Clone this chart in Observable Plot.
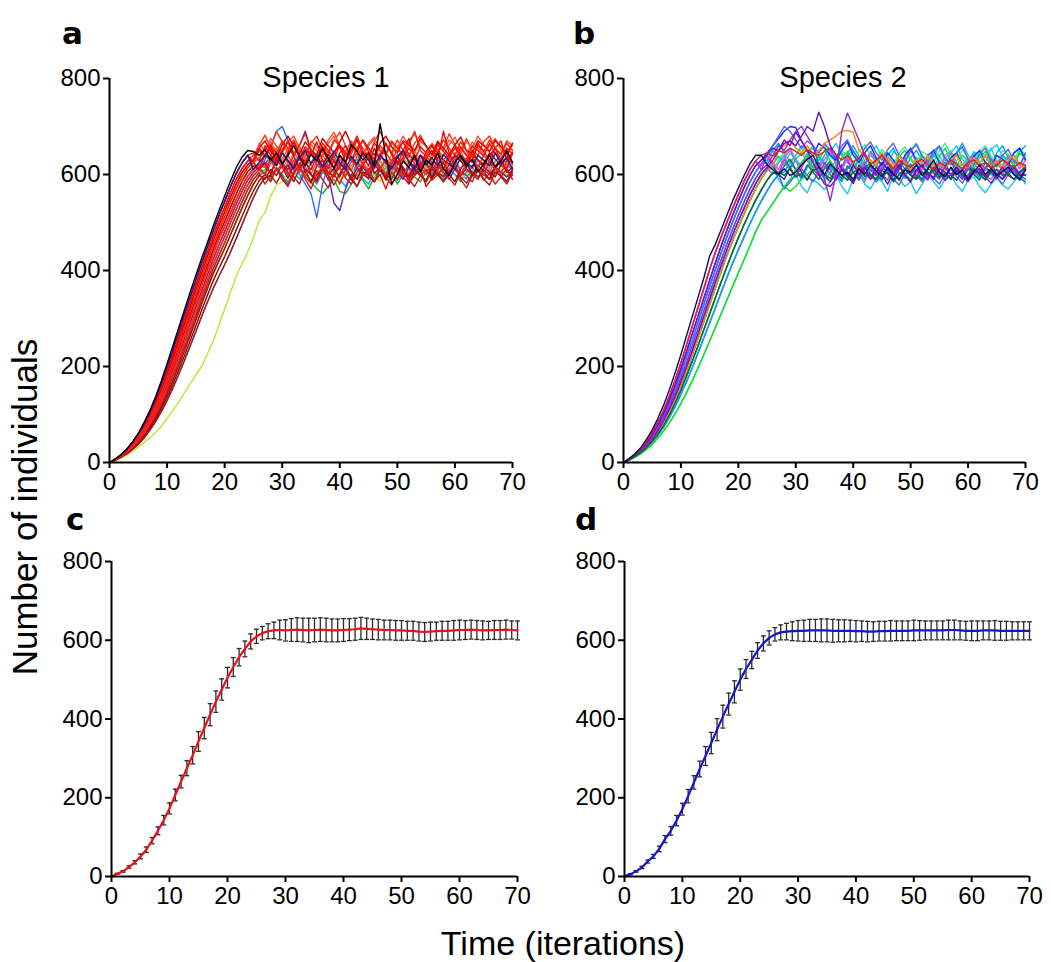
<!DOCTYPE html>
<html><head><meta charset="utf-8">
<script src="https://cdn.jsdelivr.net/npm/d3@7"></script>
<script src="https://cdn.jsdelivr.net/npm/@observablehq/plot@0.6"></script>
<style>
body{margin:0;background:#fff;}
#wrap{position:relative;width:1051px;height:962px;overflow:hidden;font-family:"Liberation Sans",Arial,sans-serif;}
.panel{position:absolute;}
#labels{position:absolute;left:0;top:0;pointer-events:none;}
</style></head><body><div id="wrap"></div>
<script>
// ---------- tick labels ----------
const xTicks = [0,10,20,30,40,50,60,70];
const yTicks = [0,200,400,600,800];
const panelLetters = ["a","b","c","d"];
const panelTitles = ["Species 1","Species 2"];
const yLabel = "Number of individuals";
const xLabel = "Time (iterations)";

// ---------- Panel a: growth phases (t = 0,1,2,...) ----------
const gA1 = [0,7,16,28,43,61,83,108,137,170,206,243,280,317,354,390,425,458,492,524,555,586,614,636,650];
const gA9 = [0,7,16,27,42,59,80,104,132,164,198,234,271,308,344,380,415,449,482,514,544,574,602,624,640];
const gA2 = [0,7,15,26,40,56,76,100,127,157,190,225,261,297,333,369,404,438,471,502,532,562,590,612,628];
const gA10 = [0,7,15,26,39,55,74,97,123,152,184,218,253,289,324,360,395,429,462,493,522,552,580,604,620,630];
const gA3 = [0,6,14,25,38,53,72,94,119,147,178,211,245,280,315,350,385,419,452,483,512,542,570,595,614,624];
const gA11 = [0,6,14,24,37,51,69,91,115,142,172,205,239,273,308,342,376,410,443,474,502,531,559,585,606,618];
const gA4 = [0,6,13,23,35,49,66,87,111,138,167,199,232,266,300,334,368,401,434,465,492,520,548,574,597,612,620];
const gA12 = [0,6,13,23,34,48,64,84,107,133,161,192,224,257,290,324,357,390,423,453,481,510,538,564,588,605,615];
const gA5 = [0,6,13,22,33,46,62,81,103,128,155,185,216,248,281,314,347,380,412,442,470,499,527,553,578,598,610];
const gA13 = [0,6,12,21,31,44,60,78,99,123,149,178,208,240,272,305,338,371,402,431,458,487,515,542,568,590,604];
const gA6 = [0,5,12,20,30,42,57,74,94,117,143,171,201,232,264,297,330,362,393,420,446,474,502,530,556,580,598];
const gA14 = [0,5,11,19,29,40,54,71,90,112,136,163,192,222,253,285,317,348,378,404,429,456,484,512,540,566,587,600];
const gA7 = [0,5,11,18,27,38,51,67,85,106,129,155,183,212,242,273,304,334,362,388,412,438,466,495,524,552,576,594];
const gA8 = [0,4,9,15,23,32,42,52,62,75,92,108,126,145,164,182,200,226,252,286,320,354,388,414,438,468,505,520,555,578];

// ---------- Panel a: plateau phases ----------
const pA1 = [648,640,652,630,645,622,640,660,636,618,642,628,655,634,612,640,625,662,648,630,645,620,706,640,580,600,628,615,640,605,630,620,645,612,598,626,640,618,632,605,622,640,615,628,650,625,612,638,622,645];
const pA2 = [630,655,640,662,625,648,670,638,615,652,640,668,630,612,645,660,625,650,672,640,618,655,630,665,642,620,650,675,635,615,648,662,630,690,645,622,658,640,625,665,648,630,655,670,628,645,660,635,650,640];
const pA3 = [610,625,600,632,615,592,620,640,605,585,618,630,600,612,595,625,608,590,620,635,602,615,588,622,640,610,596,620,605,630,592,615,625,600,585,612,628,598,620,606,590,618,632,604,615,598,625,610,600,620];
const pA4 = [640,660,682,655,690,668,645,672,650,635,665,680,652,640,670,688,660,642,675,655,638,668,690,662,645,672,650,636,665,682,658,640,670,655,685,662,645,675,650,640,668,680,655,642,670,660,648,675,655,665];
const pA5 = [600,585,612,595,578,605,620,590,570,600,615,588,602,580,610,595,575,598,612,585,600,570,605,590,615,582,598,610,575,592,605,585,600,618,590,572,598,610,588,602,580,595,612,590,600,585,605,595,580,600];
const pA6 = [630,660,690,700,672,640,600,580,560,510,580,620,600,640,612,595,625,608,590,630,615,600,622,640,605,590,615,630,600,612,625,598,610,635,605,590,620,612,600,628,615,605,620,610,600,630,615,605,620,610];
const pA7 = [610,625,640,632,618,645,628,612,636,650,622,640,615,630,648,625,610,638,622,645,630,615,640,628,612,635,650,625,610,640,620,635,618,642,628,610,636,625,615,640,630,618,645,622,635,612,628,640,620,630];
const pA8 = [585,600,590,612,598,580,605,620,595,610,588,600,615,592,605,620,598,585,610,600,590,612,605,595,620,600,588,610,598,605,615,592,600,610,595,605,590,600,612,598,605,600,595,610,600,590,605,600,598,612];
const pA9 = [605,590,615,598,580,600,625,610,585,570,560,575,590,565,560,580,600,588,570,595,612,590,605,580,600,615,595,585,605,620,598,590,610,600,585,605,615,595,600,590,612,605,595,600,610,590,605,600,595,605];
const pA10 = [650,635,660,645,670,655,640,662,685,650,632,658,645,672,660,640,655,680,648,635,665,650,642,670,655,640,662,690,650,638,660,645,672,655,640,668,650,635,660,648,672,655,642,665,650,638,660,648,670,655];
const pA11 = [620,640,628,655,635,615,648,660,632,620,645,630,612,650,638,625,660,640,618,636,652,628,615,642,660,635,620,648,632,610,640,655,628,618,645,635,622,650,640,628,612,645,632,620,650,638,625,640,630,645];
const pA12 = [590,610,598,620,605,585,612,630,600,590,618,605,595,625,610,588,615,600,592,620,608,595,615,628,602,590,612,600,585,618,605,595,622,610,598,612,600,590,615,605,595,620,608,598,612,600,590,610,605,615];
const pA13 = [620,640,655,625,610,640,660,690,650,630,610,600,540,525,570,600,590,615,600,630,612,595,620,605,590,615,600,625,610,595,618,605,590,612,600,620,605,595,610,600,615,605,595,610,620,600,605,615,600,610];
const pA14 = [635,620,645,630,615,640,625,650,632,618,642,628,615,645,630,620,648,635,618,640,625,612,638,650,628,615,640,632,618,645,630,622,640,628,615,642,630,620,645,632,618,638,625,640,630,620,642,628,635,625];
const pA15 = [595,612,600,585,605,590,615,600,580,605,595,612,590,575,600,610,592,580,605,598,615,600,588,605,595,612,598,585,605,600,590,610,600,588,605,595,612,600,590,605,598,585,600,612,595,605,590,600,610,598];
const pA16 = [665,650,675,660,645,668,680,655,640,670,658,645,672,688,660,648,670,655,640,665,678,650,642,668,655,680,662,645,670,658,640,665,650,672,660,645,668,655,680,662,648,670,658,645,665,650,672,660,648,665];
const pA17 = [625,612,640,655,630,618,645,668,640,625,610,638,652,628,615,645,660,635,620,648,630,612,640,665,645,622,635,655,640,618,632,650,625,610,642,660,635,620,648,630,615,640,655,628,612,645,632,622,650,638];
const pA18 = [580,598,612,590,575,602,618,595,582,608,590,572,600,615,592,580,605,620,598,585,610,595,578,602,615,590,575,598,610,588,600,615,592,578,605,598,585,610,600,590,612,595,580,605,598,588,610,600,592,605];
const pA19 = [655,670,648,635,662,680,658,642,668,652,640,675,660,645,668,690,662,648,672,655,640,665,680,658,645,670,662,650,676,660,642,668,655,640,662,678,650,645,670,660,648,672,658,642,665,680,655,648,668,660];
const pA20 = [615,630,608,622,640,618,605,628,645,620,610,635,625,612,640,630,615,622,648,628,610,632,620,605,630,645,622,612,638,625,608,630,642,620,612,635,628,615,640,625,610,632,645,620,615,630,625,610,635,628];
const pA21 = [598,582,605,620,595,580,610,600,585,612,598,578,602,618,590,575,605,598,585,612,600,590,615,595,580,608,598,588,612,600,585,605,620,595,582,600,612,590,578,605,598,585,610,600,590,615,598,585,605,598];
const pA22 = [645,628,660,640,625,652,668,645,630,658,642,628,665,650,635,660,645,630,655,670,648,632,660,645,628,652,668,640,630,658,645,632,662,648,635,655,640,628,660,650,638,665,645,630,655,642,635,660,648,640];
const pA23 = [600,622,640,615,598,630,612,595,625,642,618,600,632,615,598,628,645,620,605,635,618,600,630,612,595,625,640,615,600,628,620,605,635,618,600,625,640,612,598,630,615,602,628,642,618,605,632,620,608,625];
const pA24 = [610,630,645,620,600,588,612,635,620,598,605,625,640,612,595,618,632,608,590,615,628,605,595,620,635,610,598,622,612,600,625,615,602,620,630,608,595,618,625,610,600,620,628,612,598,615,625,605,612,620];
const pA25 = [635,650,668,645,630,655,672,648,635,662,650,638,665,680,655,640,668,652,638,660,675,650,642,665,655,640,670,685,658,645,665,650,638,662,678,652,640,668,655,642,660,675,650,638,662,655,645,668,658,650];
const pA26 = [620,605,630,648,622,608,635,615,600,628,642,618,605,632,620,608,638,625,610,630,645,620,605,628,615,600,625,640,618,605,630,622,610,635,648,625,612,630,618,605,628,640,620,610,632,625,612,630,620,615];

// ---------- Panel b: growth phases ----------
const gB1 = [0,8,18,31,48,68,92,120,152,187,225,265,305,345,385,430,455,485,515,545,572,598,622,640];
const gB6 = [0,8,17,29,44,62,84,109,139,172,208,246,285,324,363,402,438,470,500,530,558,586,610,628];
const gB2 = [0,7,16,27,41,58,79,103,131,162,196,232,269,306,343,380,416,451,484,515,545,573,598,618,630];
const gB7 = [0,7,15,26,39,55,74,97,124,153,186,221,256,293,330,366,402,437,470,501,530,558,584,605,622];
const gB3 = [0,6,14,24,37,52,70,92,117,145,176,209,244,280,316,352,388,422,455,486,515,543,569,592,610,620];
const gB8 = [0,6,13,23,35,49,66,87,111,138,168,200,234,269,305,340,376,410,443,474,503,530,557,581,601,614];
const gB4 = [0,6,13,22,33,47,63,83,106,132,161,192,225,259,294,329,364,398,431,462,491,518,545,570,592,608,616];
const gB10 = [0,6,12,21,31,44,59,77,99,124,151,181,212,244,277,310,343,376,408,439,468,496,522,546,568,588,604];
const gB9 = [0,5,12,20,30,42,57,74,94,117,142,169,198,229,260,291,322,354,385,415,443,470,497,522,545,566,585,600];
const gB5 = [0,5,11,18,27,38,51,66,83,102,123,146,171,198,225,253,281,310,338,367,395,423,451,480,505,522,540,558,575];

// ---------- Panel b: plateau phases ----------
const pB1 = [640,620,610,600,612,598,605,620,632,640,615,600,622,610,598,605,590,612,600,620,608,595,615,600,590,610,605,620,598,612,630,605,595,615,600,610,590,605,620,600,612,598,606,615,600,590,610,600,605,612];
const pB2 = [640,655,650,665,670,660,680,700,690,730,700,660,640,610,595,620,600,615,590,605,625,610,598,615,600,585,610,620,600,595,612,605,590,615,600,588,610,605,595,612,600,590,605,615,598,600,610,595,605,600];
const pB3 = [640,660,650,672,690,700,680,660,620,590,545,600,690,728,700,672,640,620,600,610,625,605,590,612,600,620,605,595,610,600,615,598,605,590,612,600,608,595,610,602,590,605,615,600,598,610,605,600,610,600];
const pB4 = [650,660,670,655,645,660,640,650,665,672,680,690,692,688,650,640,630,620,645,630,615,640,625,610,632,620,640,615,625,610,630,640,620,612,635,625,640,618,630,612,628,640,620,615,630,600,580,590,605,615];
const pB5 = [640,645,638,650,645,655,648,640,652,645,640,648,655,642,630,640,625,635,645,620,630,640,625,612,630,620,615,625,632,620,610,625,618,630,622,612,625,630,618,625,612,620,630,622,615,625,618,620,625,620];
const pB6 = [605,598,612,595,602,590,608,615,600,592,610,598,588,605,612,596,600,590,608,602,585,600,612,598,590,605,600,612,595,602,590,608,600,595,612,600,590,605,610,598,602,590,606,615,600,595,605,610,600,605];
const pB7 = [645,660,675,690,700,698,670,650,640,665,655,640,630,650,668,640,625,645,660,635,620,645,630,612,640,655,628,615,640,650,625,610,635,645,620,612,638,650,625,615,640,632,620,645,655,630,625,640,650,640];
const pB8 = [590,570,585,600,575,562,590,580,568,585,600,575,560,590,605,580,570,592,585,565,600,590,575,585,560,580,598,585,570,590,600,578,565,588,595,575,562,580,592,578,570,585,600,580,568,590,585,575,590,580];
const pB9 = [590,610,625,640,612,630,650,628,612,635,648,625,610,640,630,615,645,628,612,638,650,630,618,640,625,612,638,655,630,618,640,628,612,635,648,625,615,640,630,620,645,632,618,640,628,615,635,650,628,640];
const pB10 = [630,650,665,645,625,640,660,648,630,615,640,655,630,612,645,660,638,620,648,632,615,640,655,628,612,635,650,630,615,642,658,630,620,645,665,640,625,650,638,620,645,660,635,622,648,660,640,628,650,640];
const pB11 = [610,640,620,600,632,615,595,620,640,612,598,625,610,590,618,632,605,592,620,610,598,625,612,600,622,635,608,595,618,625,602,590,615,632,610,598,620,612,600,625,615,598,610,625,608,600,620,612,605,615];
const pB12 = [620,638,625,610,632,645,628,615,638,622,610,630,645,625,612,635,620,605,628,642,618,608,630,622,610,635,625,612,640,628,615,632,620,608,630,645,625,612,635,622,610,628,640,620,612,632,625,618,630,625];
const pB13 = [570,585,600,612,598,585,605,620,600,588,610,598,582,605,618,598,585,600,612,590,578,602,615,598,585,605,592,580,600,612,595,582,600,615,598,588,605,595,580,600,610,592,585,600,612,598,590,605,595,600];
const pB14 = [625,650,635,618,645,630,615,640,655,632,620,645,628,612,638,650,625,615,640,632,618,645,628,615,638,652,630,618,642,628,612,640,650,625,618,638,630,615,640,655,628,620,642,630,618,640,625,632,640,630];
const pB15 = [600,625,640,610,595,620,632,605,590,615,628,600,588,612,625,598,585,610,622,600,590,615,605,595,620,610,598,588,612,620,600,592,615,605,595,622,610,598,590,612,600,618,605,595,610,620,600,605,612,605];
const pB16 = [565,575,590,600,612,598,585,605,620,600,590,612,628,605,595,615,600,588,610,622,600,590,608,615,598,605,620,600,590,610,600,615,605,595,612,600,590,608,618,600,595,610,605,598,612,600,592,605,615,600];
const pB17 = [612,628,640,655,632,618,645,660,638,620,648,665,640,625,650,632,618,645,660,635,620,648,638,622,650,665,640,628,652,638,620,645,660,632,618,648,640,625,652,662,638,622,645,655,632,620,648,640,628,645];
const pB18 = [600,590,615,630,605,588,612,625,598,585,608,620,595,582,610,625,600,590,615,605,588,612,628,600,592,618,605,590,612,625,598,588,610,620,600,590,615,605,592,612,625,600,588,610,618,598,592,612,605,600];
const pB19 = [630,648,620,640,655,632,618,645,660,638,625,650,640,622,648,662,640,628,652,638,622,645,658,635,620,648,640,625,650,665,640,628,652,640,625,648,660,638,622,650,642,628,655,640,625,648,658,640,630,645];
const pB20 = [630,650,672,660,688,670,650,625,600,580,575,590,610,600,585,620,605,590,615,600,580,605,620,598,585,610,600,590,615,605,588,600,615,598,585,605,612,595,582,600,615,598,590,605,612,600,592,605,598,600];
const pB21 = [605,625,610,590,615,630,605,592,618,600,585,612,628,605,590,615,600,588,610,625,600,592,618,605,590,612,628,600,588,615,605,595,620,610,592,612,625,600,590,615,605,592,612,622,600,595,615,605,598,610];
const pB22 = [618,640,625,610,635,650,628,612,640,625,610,632,648,622,608,635,620,605,630,645,622,610,635,625,612,638,650,625,610,632,622,608,635,645,620,612,630,640,622,608,632,625,615,638,628,612,630,640,622,625];
const pB23 = [600,618,632,610,595,620,605,590,612,628,605,592,618,605,588,612,625,600,590,615,602,588,610,622,598,590,612,605,592,618,628,602,590,612,600,588,615,625,600,592,610,620,600,590,612,605,595,615,608,600];
const pB24 = [640,660,680,700,690,672,655,670,660,645,665,650,635,660,672,648,632,655,668,645,630,652,665,640,628,650,662,638,625,648,660,635,622,645,658,632,620,642,655,630,618,640,652,628,620,645,655,632,625,640];

// ---------- Panel c (species 1 mean, SD) ----------
const meanC_growth = [0,7,13,24,36,51,68,91,116,143,173,207,241,275,308,343,377,411,444,475,505,532,557,578,597,610,618,623,625];
const meanC_plateau = [626,625,626,627,626,625,626,627,626,625,625,626,627,628,630,629,628,627,626,626,625,625,624,624,622,621,622,623,624,624,625,626,626,627,626,625,625,626,626,627,626,625,625,626];
const sdC_growth = [0,1,2,3,4,6,7,8,10,12,14,15,16,19,22,25,27,28,27,27,26,24,22,20,19,18,17,19,21];
const sdC_plateau = [25,27,29,30,30,31,30,30,30,29,29,29,28,28,28,27,26,26,25,25,25,25,24,24,24,24,24,23,24,24,25,25,24,24,24,24,23,24,24,24,23,24,24,24];

// ---------- Panel d (species 2 mean, SD) ----------
const meanD_growth = [0,6,13,23,38,51,70,95,116,142,171,204,239,273,306,339,373,406,438,469,500,527,550,574,592,606,615,620,622];
const meanD_plateau = [623,624,624,625,625,625,625,624,624,624,624,623,623,622,622,623,623,624,624,624,624,625,625,625,625,625,625,626,626,625,624,624,624,625,625,625,624,624,624,624,624,624,624,624];
const sdD_growth = [0,1,2,3,4,5,7,9,11,13,15,17,17,20,24,27,28,29,28,28,27,24,22,20,19,18,17,19,21];
const sdD_plateau = [24,26,27,28,28,29,29,29,28,28,27,27,26,26,25,25,25,26,25,25,25,26,25,24,24,24,24,25,25,24,24,25,25,24,24,25,24,24,23,23,23,23,23,23];

// ---------- Line sets (draw order: first drawn at bottom) ----------
const linesA = [
  {g:gA6,  p:pA9,  color:"#22b022"},
  {g:gA13, p:pA24, color:"#30c030"},
  {g:gA5,  p:pA6,  color:"#2f6bff"},
  {g:gA7,  p:pA15, color:"#12a8e8"},
  {g:gA8,  p:pA8,  color:"#b8e830"},
  {g:gA4,  p:pA13, color:"#6a1fc0"},
  {g:gA12, p:pA26, color:"#e040a0"},
  {g:gA11, p:pA11, color:"#ff8c00"},
  {g:gA2,  p:pA4,  color:"#ff3300"},
  {g:gA14, p:pA14, color:"#8b0000"},
  {g:gA6,  p:pA12, color:"#cc0000"},
  {g:gA12, p:pA5,  color:"#e01010"},
  {g:gA10, p:pA16, color:"#ff4d4d"},
  {g:gA13, p:pA18, color:"#c41e1e"},
  {g:gA7,  p:pA21, color:"#b01010"},
  {g:gA11, p:pA3,  color:"#b00000"},
  {g:gA3,  p:pA25, color:"#ff5a1f"},
  {g:gA9,  p:pA17, color:"#e60000"},
  {g:gA4,  p:pA20, color:"#ff2020"},
  {g:gA10, p:pA19, color:"#d00000"},
  {g:gA5,  p:pA23, color:"#e82a2a"},
  {g:gA9,  p:pA22, color:"#ff1010"},
  {g:gA3,  p:pA10, color:"#ff1a00"},
  {g:gA2,  p:pA2,  color:"#ff0000"},
  {g:gA9,  p:pA7,  color:"#1c1c9c"},
  {g:gA1,  p:pA1,  color:"#000000"}
];
const linesB = [
  {g:gB4,  p:pB8,  color:"#18c8f0"},
  {g:gB5,  p:pB16, color:"#22dd22"},
  {g:gB8,  p:pB15, color:"#b060e0"},
  {g:gB9,  p:pB13, color:"#4169e1"},
  {g:gB10, p:pB18, color:"#2020c0"},
  {g:gB7,  p:pB14, color:"#20e0b0"},
  {g:gB3,  p:pB17, color:"#00d8e8"},
  {g:gB8,  p:pB12, color:"#00c8a0"},
  {g:gB9,  p:pB21, color:"#00a0ff"},
  {g:gB7,  p:pB10, color:"#00a8f0"},
  {g:gB10, p:pB19, color:"#40f080"},
  {g:gB6,  p:pB11, color:"#d020d0"},
  {g:gB6,  p:pB22, color:"#ff40ff"},
  {g:gB4,  p:pB23, color:"#008080"},
  {g:gB5,  p:pB9,  color:"#10e040"},
  {g:gB2,  p:pB7,  color:"#1030ff"},
  {g:gB7,  p:pB24, color:"#5a5aff"},
  {g:gB4,  p:pB4,  color:"#ff8a00"},
  {g:gB8,  p:pB20, color:"#9000c0"},
  {g:gB3,  p:pB3,  color:"#8a2be2"},
  {g:gB2,  p:pB2,  color:"#6a10c8"},
  {g:gB10, p:pB6,  color:"#006a20"},
  {g:gB6,  p:pB5,  color:"#e02020"},
  {g:gB1,  p:pB1,  color:"#0a0a60"}
];

// ---------- helpers ----------
function toRows(lines){
  return lines.flatMap((L,i)=> L.g.concat(L.p).slice(0,71).map((y,t)=>({t, y, id:i, color:L.color})));
}
function meanRows(mg, mp, sg, sp){
  const m = mg.concat(mp).slice(0,71), s = sg.concat(sp).slice(0,71);
  return m.map((v,t)=>({t, v, lo: v - s[t], hi: v + s[t]}));
}
const fontFam = "'Liberation Sans', Arial, sans-serif";
function axes(){
  return [
    Plot.axisX({ticks:xTicks, tickSize:6, tickPadding:4, strokeWidth:2, label:null, fontSize:24}),
    Plot.axisY({ticks:yTicks, tickSize:6, tickPadding:3, strokeWidth:2, label:null, fontSize:24}),
    Plot.ruleX([0], {strokeWidth:2, stroke:"black"}),
    Plot.ruleY([0], {strokeWidth:2, stroke:"black"})
  ];
}
function base(m){
  return {
    width:530, height:m.h,
    marginLeft:m.l, marginRight:m.r, marginTop:m.t, marginBottom:m.b,
    x:{domain:[0,70]}, y:{domain:[0,800]},
    color:{type:"identity"},
    style:{fontSize:"24px", fontFamily:fontFam, background:"transparent", color:"black", overflow:"visible"}
  };
}
function spaghetti(lines, m){
  return Plot.plot({...base(m), marks:[
    Plot.line(toRows(lines), {x:"t", y:"y", z:"id", stroke:"color", strokeWidth:1.4}),
    ...axes()
  ]});
}
function meanPlot(rows, lineColor, m){
  const bars = rows.filter(d=>d.t>0);
  return Plot.plot({...base(m), marks:[
    Plot.ruleX(bars, {x:"t", y1:"lo", y2:"hi", stroke:"#2a2a2a", strokeWidth:1.3}),
    Plot.link(bars, {x1:d=>d.t-0.42, x2:d=>d.t+0.42, y1:"hi", y2:"hi", stroke:"#2a2a2a", strokeWidth:1.3}),
    Plot.link(bars, {x1:d=>d.t-0.42, x2:d=>d.t+0.42, y1:"lo", y2:"lo", stroke:"#2a2a2a", strokeWidth:1.3}),
    Plot.line(rows, {x:"t", y:"v", stroke:lineColor, strokeWidth:2.2}),
    ...axes()
  ]});
}

const wrap = document.getElementById("wrap");
function place(node, left, top){
  node.classList.add("panel");
  node.style.left = left + "px";
  node.style.top = top + "px";
  wrap.appendChild(node);
}
place(spaghetti(linesA, {h:500, l:109, r:18, t:78, b:38}), 0, 0);
place(spaghetti(linesB, {h:500, l:110, r:18, t:78, b:38}), 513, 0);
place(meanPlot(meanRows(meanC_growth, meanC_plateau, sdC_growth, sdC_plateau), "#e8101c", {h:430, l:111, r:13, t:78, b:37}), 0, 483);
place(meanPlot(meanRows(meanD_growth, meanD_plateau, sdD_growth, sdD_plateau), "#1414d2", {h:430, l:111, r:14, t:78, b:37}), 513, 483);

// ---------- text overlay: panel letters, titles, axis labels ----------
const ns = "http://www.w3.org/2000/svg";
const ov = document.createElementNS(ns, "svg");
ov.setAttribute("id","labels");
ov.setAttribute("width",1051); ov.setAttribute("height",962);
function txt(s, attrs){
  const t = document.createElementNS(ns, "text");
  for (const k in attrs) t.setAttribute(k, attrs[k]);
  t.textContent = s;
  ov.appendChild(t);
}
const letterPos = [[62,44],[573,44],[66,530],[575,530]];
panelLetters.forEach((s,i)=>txt(s, {x:letterPos[i][0], y:letterPos[i][1], "font-family":"'DejaVu Sans', sans-serif", "font-weight":"bold", "font-size":31, fill:"black"}));
txt(panelTitles[0], {x:326, y:87, "text-anchor":"middle", "font-family":fontFam, "font-size":29, fill:"black"});
txt(panelTitles[1], {x:843, y:87, "text-anchor":"middle", "font-family":fontFam, "font-size":29, fill:"black"});
txt(yLabel, {transform:"translate(37,507) rotate(-90)", "text-anchor":"middle", "font-family":fontFam, "font-size":35, fill:"black"});
txt(xLabel, {x:563, y:955, "text-anchor":"middle", "font-family":fontFam, "font-size":34, fill:"black"});
wrap.appendChild(ov);
</script>
</body></html>
